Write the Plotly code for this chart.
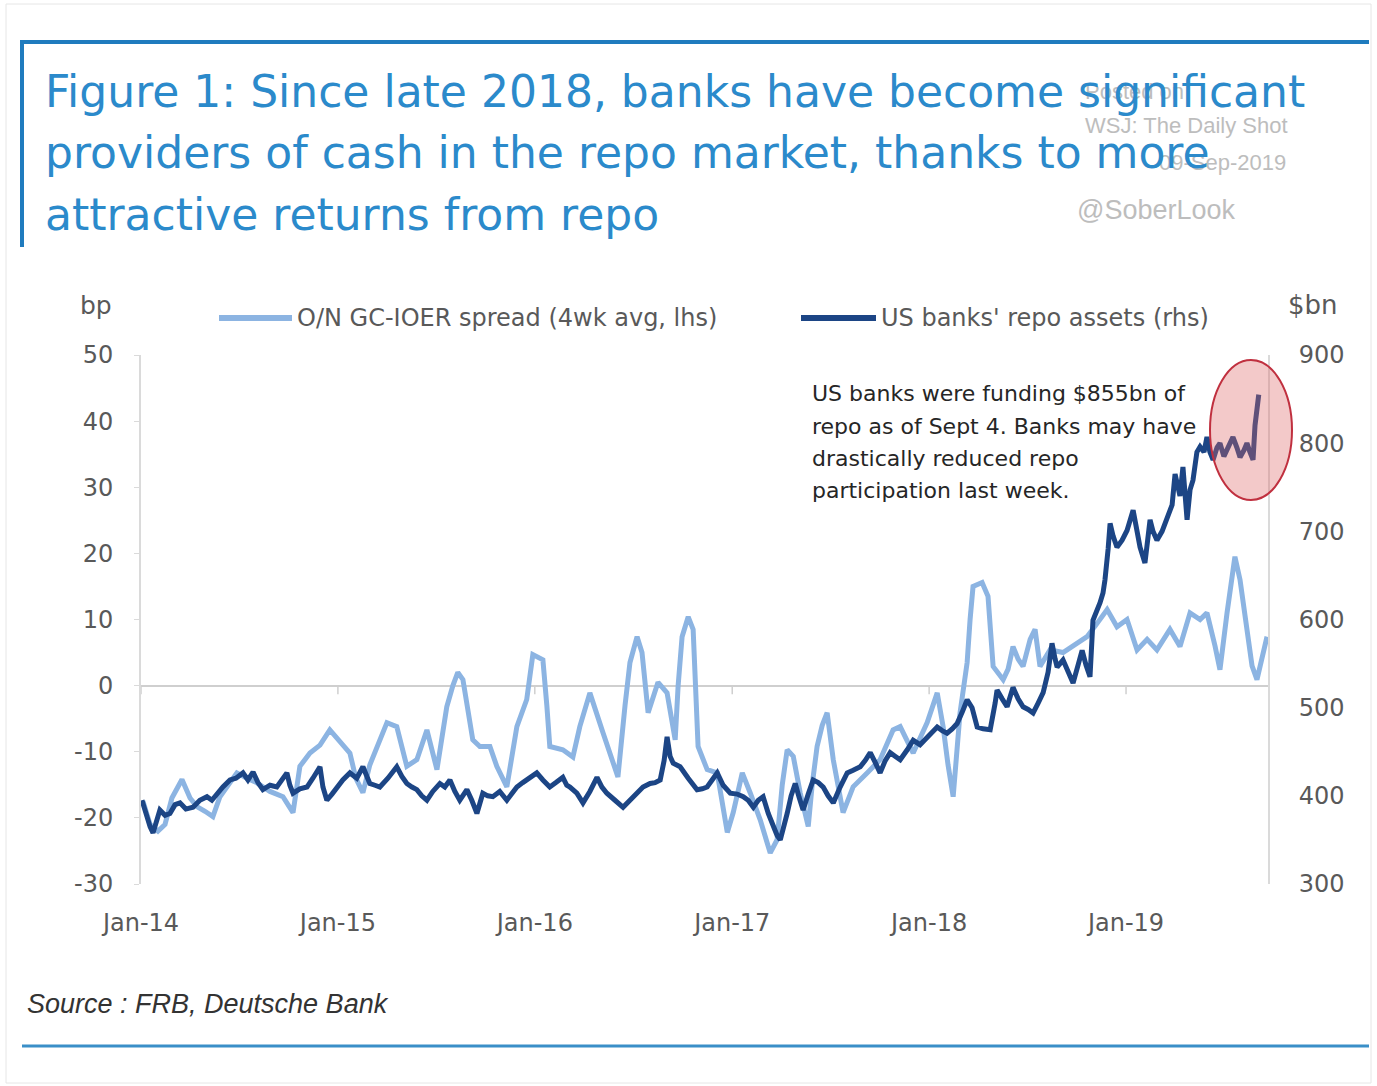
import pandas as pd
import plotly.graph_objects as go

# ---- data -------------------------------------------------------------
# Observation times as decimal years
spread_time = [
    2014.010, 2014.046, 2014.086, 2014.122, 2014.157, 2014.208, 2014.249, 2014.284,
    2014.325, 2014.365, 2014.401, 2014.442, 2014.487, 2014.538, 2014.589, 2014.655,
    2014.721, 2014.772, 2014.807, 2014.858, 2014.909, 2014.959, 2015.010, 2015.061,
    2015.091, 2015.127, 2015.162, 2015.198, 2015.249, 2015.299, 2015.350, 2015.401,
    2015.452, 2015.503, 2015.553, 2015.584, 2015.609, 2015.635, 2015.660, 2015.685,
    2015.721, 2015.772, 2015.807, 2015.858, 2015.909, 2015.959, 2015.990, 2016.041,
    2016.061, 2016.076, 2016.142, 2016.193, 2016.228, 2016.279, 2016.345, 2016.391,
    2016.421, 2016.457, 2016.482, 2016.518, 2016.543, 2016.574, 2016.599, 2016.624,
    2016.670, 2016.711, 2016.726, 2016.746, 2016.777, 2016.802, 2016.827, 2016.873,
    2016.924, 2016.949, 2016.975, 2017.005, 2017.051, 2017.091, 2017.142, 2017.193,
    2017.228, 2017.254, 2017.279, 2017.310, 2017.345, 2017.386, 2017.406, 2017.431,
    2017.457, 2017.482, 2017.513, 2017.563, 2017.614, 2017.685, 2017.751, 2017.817,
    2017.853, 2017.919, 2017.990, 2018.041, 2018.071, 2018.096, 2018.122, 2018.157,
    2018.193, 2018.208, 2018.223, 2018.269, 2018.299, 2018.325, 2018.376, 2018.401,
    2018.426, 2018.452, 2018.477, 2018.513, 2018.538, 2018.563, 2018.614, 2018.680,
    2018.751, 2018.802, 2018.843, 2018.868, 2018.904, 2018.954, 2019.005, 2019.056,
    2019.107, 2019.157, 2019.223, 2019.274, 2019.325, 2019.376, 2019.411, 2019.452,
    2019.477, 2019.513, 2019.553, 2019.579, 2019.614, 2019.640, 2019.665, 2019.690,
    2019.716,
]
spread_bp = [
    -17.5, -21.0, -22.0, -21.0, -17.0, -14.2, -17.0, -18.3,
    -19.0, -19.8, -16.8, -15.0, -13.2, -14.0, -14.7, -16.0,
    -16.8, -19.2, -12.2, -10.2, -9.0, -6.7, -8.6, -10.2,
    -14.0, -16.2, -12.0, -9.2, -5.6, -6.2, -12.2, -11.2,
    -6.7, -12.7, -3.2, 0.0, 2.0, 0.9, -4.0, -8.2,
    -9.2, -9.2, -12.2, -15.3, -6.2, -2.1, 4.7, 3.9,
    -3.0, -9.2, -9.7, -10.8, -6.2, -1.1, -7.1, -11.0,
    -13.8, -3.0, 3.5, 7.4, 5.0, -4.1, -2.0, 0.5,
    -1.1, -8.2, 0.0, 7.4, 10.4, 8.5, -9.2, -12.7,
    -13.2, -18.0, -22.2, -19.2, -13.2, -16.2, -20.3, -25.3,
    -23.3, -15.0, -9.7, -10.7, -16.2, -21.3, -15.0, -9.2,
    -6.0, -4.1, -11.2, -19.2, -15.3, -13.2, -11.2, -6.7,
    -6.2, -10.2, -5.6, -1.1, -6.2, -12.0, -16.8, -4.1,
    3.5, 10.0, 15.0, 15.6, 13.5, 2.9, 0.9, 2.5,
    5.9, 4.0, 2.9, 7.0, 8.5, 2.9, 5.4, 5.0,
    6.5, 7.4, 9.0, 10.0, 11.5, 8.9, 10.0, 5.4,
    7.0, 5.4, 8.5, 5.9, 11.0, 10.0, 11.0, 6.0,
    2.4, 11.0, 19.5, 16.0, 8.5, 3.0, 0.9, 4.0,
    7.4,
]

repo_time = [
    2014.005, 2014.025, 2014.046, 2014.061, 2014.076, 2014.096, 2014.122, 2014.147,
    2014.173, 2014.198, 2014.228, 2014.264, 2014.299, 2014.335, 2014.360, 2014.386,
    2014.416, 2014.452, 2014.482, 2014.518, 2014.543, 2014.569, 2014.594, 2014.619,
    2014.655, 2014.690, 2014.716, 2014.741, 2014.756, 2014.772, 2014.807, 2014.843,
    2014.873, 2014.909, 2014.924, 2014.944, 2014.970, 2014.995, 2015.025, 2015.061,
    2015.096, 2015.127, 2015.147, 2015.162, 2015.188, 2015.213, 2015.254, 2015.299,
    2015.325, 2015.350, 2015.376, 2015.401, 2015.426, 2015.452, 2015.482, 2015.518,
    2015.543, 2015.569, 2015.594, 2015.619, 2015.640, 2015.655, 2015.680, 2015.706,
    2015.736, 2015.761, 2015.787, 2015.822, 2015.858, 2015.883, 2015.909, 2015.939,
    2015.975, 2016.010, 2016.041, 2016.076, 2016.107, 2016.142, 2016.162, 2016.178,
    2016.213, 2016.244, 2016.279, 2016.315, 2016.340, 2016.365, 2016.406, 2016.447,
    2016.482, 2016.518, 2016.548, 2016.584, 2016.609, 2016.635, 2016.655, 2016.670,
    2016.685, 2016.701, 2016.736, 2016.777, 2016.822, 2016.848, 2016.873, 2016.898,
    2016.924, 2016.954, 2016.990, 2017.025, 2017.056, 2017.081, 2017.107, 2017.132,
    2017.157, 2017.183, 2017.208, 2017.228, 2017.244, 2017.264, 2017.279, 2017.299,
    2017.320, 2017.340, 2017.360, 2017.386, 2017.411, 2017.437, 2017.462, 2017.487,
    2017.513, 2017.548, 2017.584, 2017.614, 2017.650, 2017.675, 2017.701, 2017.726,
    2017.751, 2017.777, 2017.802, 2017.827, 2017.853, 2017.888, 2017.919, 2017.954,
    2017.990, 2018.015, 2018.041, 2018.066, 2018.091, 2018.117, 2018.142, 2018.168,
    2018.193, 2018.218, 2018.244, 2018.274, 2018.310, 2018.335, 2018.345, 2018.371,
    2018.396, 2018.411, 2018.426, 2018.452, 2018.477, 2018.503, 2018.528, 2018.553,
    2018.579, 2018.604, 2018.624, 2018.640, 2018.650, 2018.680, 2018.706, 2018.731,
    2018.756, 2018.777, 2018.797, 2018.817, 2018.832, 2018.853, 2018.868, 2018.883,
    2018.893, 2018.909, 2018.919, 2018.934, 2018.954, 2018.980, 2019.005, 2019.020,
    2019.036, 2019.056, 2019.071, 2019.096, 2019.122, 2019.137, 2019.157, 2019.183,
    2019.208, 2019.234, 2019.249, 2019.274, 2019.289, 2019.310, 2019.325, 2019.340,
    2019.360, 2019.376, 2019.396, 2019.411, 2019.426, 2019.442, 2019.462, 2019.477,
    2019.497, 2019.513, 2019.528, 2019.543, 2019.563, 2019.579, 2019.599, 2019.614,
    2019.629, 2019.645, 2019.655, 2019.674,
]
repo_bn = [
    395, 380, 365, 358, 370, 384, 378, 380,
    390, 392, 385, 387, 395, 399, 395, 403,
    410, 418, 420, 426, 418, 427, 415, 407,
    412, 410, 418, 426, 412, 403, 408, 410,
    420, 433, 410, 395, 402, 410, 418, 426,
    420, 433, 422, 414, 412, 410, 420, 433,
    422, 414, 410, 407, 400, 395, 405, 414,
    410, 418, 405, 395, 402, 407, 395, 380,
    403, 400, 399, 405, 395, 402, 410, 415,
    421, 426, 418, 410, 415, 421, 412, 410,
    403, 392, 405, 421, 410, 403, 395, 387,
    395, 403, 410, 414, 415, 418, 440, 467,
    445, 437, 433, 420, 407, 408, 410, 418,
    426, 412, 403, 402, 399, 395, 387, 395,
    399, 380, 365, 355, 350, 365, 380, 400,
    414, 398, 384, 402, 418, 415, 410, 400,
    392, 410, 426, 429, 433, 440, 449, 438,
    426, 440, 449, 445, 441, 452, 463, 458,
    467, 472, 478, 474, 471, 476, 482, 495,
    509, 500, 478, 476, 475, 505, 520, 510,
    501, 512, 523, 510, 501, 498, 494, 505,
    517, 540, 573, 555, 546, 554, 540, 528,
    548, 565, 548, 535, 599, 610, 619, 630,
    645, 680, 709, 695, 682, 690, 701, 712,
    724, 700, 682, 664, 713, 700, 690, 700,
    713, 730, 765, 740, 773, 713, 747, 758,
    790, 796, 790, 807, 790, 781, 795, 800,
    785, 792, 800, 807, 795, 784, 792, 800,
    790, 781, 820, 855,
]

year_ticks = [2014, 2015, 2016, 2017, 2018, 2019]
year_labels = ["Jan-14", "Jan-15", "Jan-16", "Jan-17", "Jan-18", "Jan-19"]

left_ticks = [-30, -20, -10, 0, 10, 20, 30, 40, 50]
left_labels = ["-30", "-20", "-10", "0", "10", "20", "30", "40", "50"]
right_ticks = [300, 400, 500, 600, 700, 800, 900]

LEFT_RANGE = [-30, 50]
RIGHT_RANGE = [300, 900]

SPREAD_NAME = "O/N GC-IOER spread (4wk avg, lhs)"
REPO_NAME = "US banks' repo assets (rhs)"

# ---- helpers ----------------------------------------------------------
def to_date(t):
    year = int(t)
    start = pd.Timestamp(year=year, month=1, day=1)
    length = (pd.Timestamp(year=year + 1, month=1, day=1) - start).days
    return start + pd.Timedelta(days=(t - year) * length)

W, H = 1377, 1086
ML, MR, MT, MB = 141, 109, 355, 202
PW, PH = W - ML - MR, H - MT - MB

def px(x):  # page pixel -> paper x
    return (x - ML) / PW

def py(y):  # page pixel -> paper y
    return (H - MB - y) / PH

LIGHT = "#8CB4E2"
DARK = "#1C4585"
TITLE_BLUE = "#2B8ACB"
FRAME_BLUE = "#1F7BBE"
GREY_TXT = "#595959"
AXIS_GREY = "#DADADA"

spread_dates = [to_date(t) for t in spread_time]
repo_dates = [to_date(t) for t in repo_time]

fig = go.Figure()
fig.add_trace(go.Scatter(
    x=spread_dates, y=spread_bp, name=SPREAD_NAME, mode="lines",
    line=dict(color=LIGHT, width=5), yaxis="y",
))
fig.add_trace(go.Scatter(
    x=repo_dates, y=repo_bn, name=REPO_NAME, mode="lines",
    line=dict(color=DARK, width=5), yaxis="y2",
))

tick_font = dict(family="DejaVu Sans", size=24, color=GREY_TXT)

fig.update_layout(
    width=W, height=H, autosize=False,
    margin=dict(l=ML, r=MR, t=MT, b=MB, pad=0),
    paper_bgcolor="white", plot_bgcolor="white",
    showlegend=False,
    xaxis=dict(
        type="date",
        range=[to_date(2014.0), to_date(2019.721)],
        tickvals=[to_date(y) for y in year_ticks],
        ticktext=year_labels,
        ticks="outside", ticklen=17, tickcolor="rgba(0,0,0,0)",
        showgrid=False, showline=False, zeroline=False,
        tickfont=tick_font,
    ),
    yaxis=dict(
        range=LEFT_RANGE, tickvals=left_ticks, ticktext=left_labels,
        showgrid=False, showline=True, linecolor=AXIS_GREY, linewidth=2,
        ticks="outside", ticklen=5, tickcolor=AXIS_GREY,
        ticklabelstandoff=16,
        zeroline=True, zerolinecolor="#CFCFCF", zerolinewidth=2,
        tickfont=tick_font,
    ),
    yaxis2=dict(
        range=RIGHT_RANGE, tickvals=right_ticks, overlaying="y", side="right",
        showgrid=False, showline=True, linecolor=AXIS_GREY, linewidth=2,
        ticks="", ticklabelstandoff=24, zeroline=False,
        tickfont=tick_font,
    ),
)

shapes = []
# small year ticks hanging from the zero line
for y in year_ticks:
    d = to_date(y)
    shapes.append(dict(type="line", xref="x", yref="y", x0=d, x1=d, y0=0, y1=-1.3,
                       line=dict(color="#CFCFCF", width=1.5)))

# outer frame and title box rules
shapes += [
    dict(type="rect", xref="paper", yref="paper", x0=px(6), x1=px(1371), y0=py(4), y1=py(1083),
         line=dict(color="#E6E6E6", width=1), layer="below"),
    dict(type="line", xref="paper", yref="paper", x0=px(20), x1=px(1369), y0=py(42), y1=py(42),
         line=dict(color=FRAME_BLUE, width=4)),
    dict(type="line", xref="paper", yref="paper", x0=px(22), x1=px(22), y0=py(40), y1=py(247),
         line=dict(color=FRAME_BLUE, width=4)),
    dict(type="line", xref="paper", yref="paper", x0=px(22), x1=px(1369), y0=py(1046), y1=py(1046),
         line=dict(color="#3A8FC8", width=3)),
    # legend keys
    dict(type="line", xref="paper", yref="paper", x0=px(219), x1=px(292), y0=py(318), y1=py(318),
         line=dict(color=LIGHT, width=6)),
    dict(type="line", xref="paper", yref="paper", x0=px(801), x1=px(876), y0=py(318), y1=py(318),
         line=dict(color=DARK, width=6)),
    # highlight around the latest readings
    dict(type="circle", xref="paper", yref="paper", layer="above",
         x0=px(1210), x1=px(1292), y0=py(500), y1=py(360),
         fillcolor="rgba(220,100,100,0.35)", line=dict(color="#C0303F", width=2)),
]
fig.update_layout(shapes=shapes)

def text(x, y, s, size, color, family="DejaVu Sans", xanchor="left", italic=False):
    return dict(x=px(x), y=py(y), xref="paper", yref="paper", text=s, showarrow=False,
                xanchor=xanchor, yanchor="middle",
                font=dict(family=family, size=size, color=color,
                          style="italic" if italic else "normal"))

WM = "#BDBDBD"
annotations = [
    # attribution stamp (drawn under the title)
    text(1083, 92, "Posted on", 22, WM, family="Liberation Sans"),
    text(1083, 125, "WSJ: The Daily Shot", 22, WM, family="Liberation Sans"),
    text(1288, 162, "09-Sep-2019", 22, WM, family="Liberation Sans", xanchor="right"),
    text(1075, 210, "@SoberLook", 27, WM, family="Liberation Sans"),
    # title
    text(43, 92, "Figure 1: Since late 2018, banks have become significant", 44, TITLE_BLUE),
    text(43, 153, "providers of cash in the repo market, thanks to more", 44, TITLE_BLUE),
    text(43, 215, "attractive returns from repo", 44, TITLE_BLUE),
    # axis units
    text(78, 305, "bp", 25, GREY_TXT),
    text(1286, 305, "$bn", 26, GREY_TXT),
    # legend labels
    text(295, 318, SPREAD_NAME, 24, GREY_TXT),
    text(879, 318, REPO_NAME, 24, GREY_TXT),
    # note
    text(810, 393, "US banks were funding $855bn of", 22, "#262626"),
    text(810, 426, "repo as of Sept 4. Banks may have", 22, "#262626"),
    text(810, 458, "drastically reduced repo", 22, "#262626"),
    text(810, 490, "participation last week.", 22, "#262626"),
    # source
    text(25, 1004, "Source : FRB, Deutsche Bank", 27, "#333333", family="Liberation Sans", italic=True),
]
fig.update_layout(annotations=annotations)

fig.write_html("out.html")
